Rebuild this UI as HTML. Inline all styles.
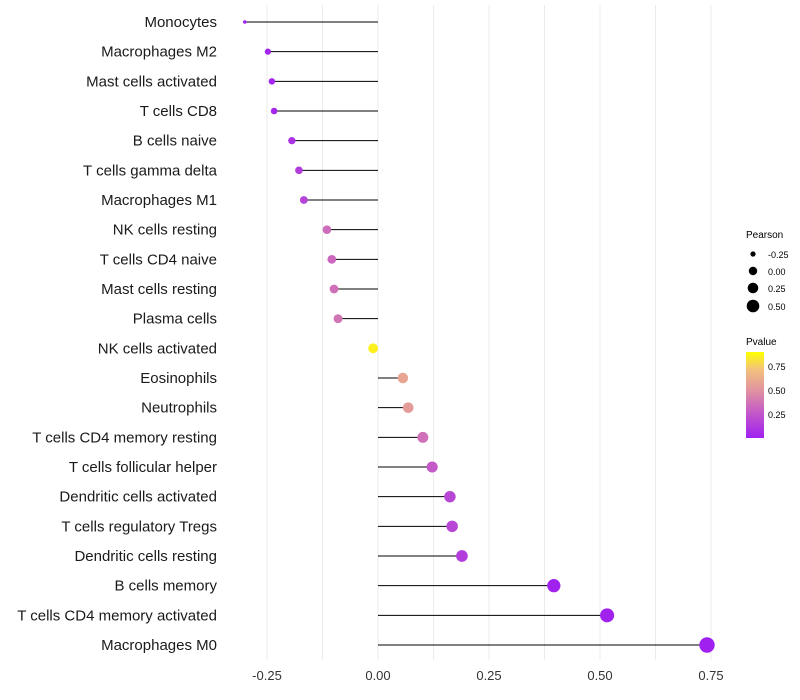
<!DOCTYPE html>
<html><head><meta charset="utf-8"><style>
body{margin:0;background:#fff;font-family:"Liberation Sans",sans-serif}
svg{display:block}
</style></head><body>
<svg id="c" width="800" height="700">
<defs><linearGradient id="pg" x1="0" y1="1" x2="0" y2="0">
<stop offset="0" stop-color="#a020f0"/><stop offset="0.3" stop-color="#c45ac8"/><stop offset="0.55" stop-color="#e092a0"/><stop offset="0.8" stop-color="#f3c27c"/><stop offset="1" stop-color="#ffff00"/></linearGradient></defs>
<g id="grid"></g><g id="marks"></g><g id="labels"></g>
<g font-size="10">
<text x="746" y="238" fill="#000">Pearson</text>
<circle cx="753" cy="254" r="2.6"/><text x="768" y="258" font-size="9">-0.25</text>
<circle cx="753" cy="271" r="4.2"/><text x="768" y="275" font-size="9">0.00</text>
<circle cx="753" cy="288" r="5.3"/><text x="768" y="292" font-size="9">0.25</text>
<circle cx="753" cy="306" r="6.3"/><text x="768" y="310" font-size="9">0.50</text>
<text x="746" y="345">Pvalue</text>
<rect x="746" y="352" width="18" height="86" fill="url(#pg)"/>
<text x="768" y="370" font-size="9">0.75</text>
<text x="768" y="394" font-size="9">0.50</text>
<text x="768" y="418" font-size="9">0.25</text>
</g>
</svg>
<script>
const cells=["Monocytes","Macrophages M2","Mast cells activated","T cells CD8","B cells naive","T cells gamma delta","Macrophages M1","NK cells resting","T cells CD4 naive","Mast cells resting","Plasma cells","NK cells activated","Eosinophils","Neutrophils","T cells CD4 memory resting","T cells follicular helper","Dendritic cells activated","T cells regulatory  Tregs ","Dendritic cells resting","B cells memory","T cells CD4 memory activated","Macrophages M0"];
const pearson=[-0.300,-0.248,-0.239,-0.234,-0.194,-0.178,-0.167,-0.115,-0.104,-0.099,-0.090,-0.011,0.056,0.068,0.101,0.122,0.162,0.167,0.189,0.396,0.516,0.741];
const pvalue=[0.01,0.02,0.03,0.03,0.10,0.15,0.18,0.38,0.36,0.40,0.42,0.95,0.65,0.60,0.40,0.30,0.20,0.20,0.15,0.01,0.01,0.001];
const ticks=[-0.25,0,0.25,0.5,0.75];
const tickLabels=["-0.25","0.00","0.25","0.50","0.75"];
const NS="http://www.w3.org/2000/svg";
const X=v=>378+v*444;
const Y=i=>22+i*29.667;
const R=v=>1.8+5.9*Math.sqrt(Math.max(v+0.3,0))/Math.sqrt(1.04);
const stops=[[0,[160,32,240]],[0.3,[196,90,200]],[0.55,[224,146,160]],[0.8,[243,194,124]],[1,[255,255,0]]];
function col(p){for(let i=1;i<stops.length;i++){if(p<=stops[i][0]){const a=stops[i-1],b=stops[i],t=(p-a[0])/(b[0]-a[0]);return "rgb("+a[1].map((c,k)=>Math.round(c+(b[1][k]-c)*t)).join(",")+")";}}return "rgb(255,255,0)";}
function mk(t,a,parent){const e=document.createElementNS(NS,t);for(const k in a)e.setAttribute(k,a[k]);document.getElementById(parent).appendChild(e);return e;}
for(let v=-0.25;v<=0.751;v+=0.125){const g=mk("line",{x1:X(v),x2:X(v),y1:5,y2:660,stroke:"#ebebeb","stroke-width":1},"grid");

}
ticks.forEach((t,i)=>{const e=mk("text",{x:X(t),y:680,"text-anchor":"middle","font-size":13,fill:"#333"},"labels");e.textContent=tickLabels[i];

});
cells.forEach((c,i)=>{
const l=mk("line",{x1:X(0),x2:X(pearson[i]),y1:Y(i),y2:Y(i),stroke:"#000","stroke-width":1},"marks");


const d=mk("circle",{cx:X(pearson[i]),cy:Y(i),r:R(pearson[i]),fill:col(pvalue[i])},"marks");


const t=mk("text",{x:217,y:Y(i)+5,"text-anchor":"end","font-size":15,fill:"#1a1a1a"},"labels");t.textContent=c;


});
</script>
</body></html>
